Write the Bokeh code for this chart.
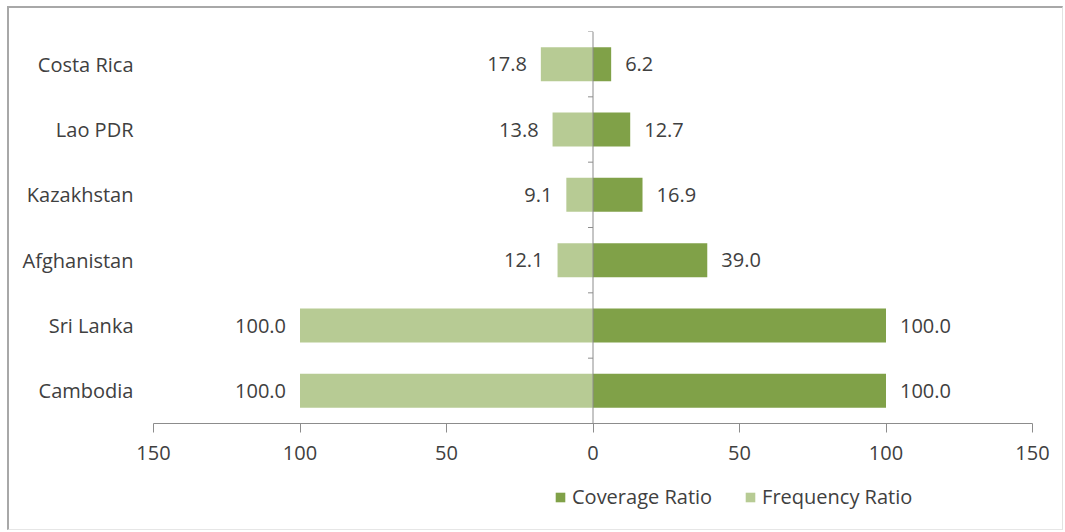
from bokeh.plotting import figure
from bokeh.layouts import column
from bokeh.models import (ColumnDataSource, FactorRange, Range1d, FixedTicker,
                          Legend, LegendItem)
from bokeh.core.properties import value
from bokeh.embed import file_html
from bokeh.resources import INLINE

# Countries listed bottom to top
countries = ["Cambodia", "Sri Lanka", "Afghanistan", "Kazakhstan", "Lao PDR", "Costa Rica"]
coverage_ratio = [100.0, 100.0, 39.0, 16.9, 12.7, 6.2]
frequency_ratio = [100.0, 100.0, 12.1, 9.1, 13.8, 17.8]
x_ticks = [-150, -100, -50, 0, 50, 100, 150]
series_names = ["Coverage Ratio", "Frequency Ratio"]

FONT = "Open Sans"
TEXT_COLOR = "#404040"
DARK_GREEN = "#80a148"
LIGHT_GREEN = "#b7cb94"
AXIS_GRAY = "#8c8c8c"
BAR_HEIGHT = 0.52
LABEL_SIZE = "20px"

src = ColumnDataSource(dict(
    country=countries,
    cov=coverage_ratio,
    freq_neg=[-v for v in frequency_ratio],
    cov_label=[f"{v:.1f}" for v in coverage_ratio],
    freq_label=[f"{v:.1f}" for v in frequency_ratio],
))

p = figure(width=1053, height=470, output_backend="svg", toolbar_location=None,
           y_range=FactorRange(*countries, range_padding=0),
           x_range=Range1d(-150, 150),
           min_border_left=144, min_border_right=30,
           min_border_top=23, min_border_bottom=55)
p.outline_line_color = None
p.background_fill_color = "white"
p.border_fill_color = "white"
p.xgrid.visible = False
p.ygrid.visible = False

p.hbar(y="country", left=0, right="cov", height=BAR_HEIGHT, source=src,
       fill_color=DARK_GREEN, line_color=None)
p.hbar(y="country", left="freq_neg", right=0, height=BAR_HEIGHT, source=src,
       fill_color=LIGHT_GREEN, line_color=None)

# Centre axis line with small ticks between categories
bounds = list(range(len(countries) + 1))
p.segment(x0=0, y0=0, x1=0, y1=len(countries), line_color=AXIS_GRAY, line_width=1)
p.segment(x0=[-1.7] * len(bounds), y0=bounds, x1=[0] * len(bounds), y1=bounds,
          line_color=AXIS_GRAY, line_width=1)

# Value labels
p.text(x="cov", y="country", text="cov_label", source=src, x_offset=14,
       text_align="left", text_baseline="middle", text_font=value(FONT),
       text_font_size=LABEL_SIZE, text_color=TEXT_COLOR)
p.text(x="freq_neg", y="country", text="freq_label", source=src, x_offset=-14,
       text_align="right", text_baseline="middle", text_font=value(FONT),
       text_font_size=LABEL_SIZE, text_color=TEXT_COLOR)

# X axis with absolute-value labels
xa = p.xaxis[0]
xa.ticker = FixedTicker(ticks=x_ticks)
xa.major_label_overrides = {t: str(abs(t)) for t in x_ticks}
xa.axis_line_color = AXIS_GRAY
xa.major_tick_line_color = AXIS_GRAY
xa.major_tick_out = 9
xa.major_tick_in = 0
xa.minor_tick_line_color = None
xa.major_label_standoff = 13
xa.major_label_text_font = FONT
xa.major_label_text_font_size = LABEL_SIZE
xa.major_label_text_color = TEXT_COLOR

# Category labels on the left
ya = p.yaxis[0]
ya.axis_line_color = None
ya.major_tick_line_color = None
ya.minor_tick_line_color = None
ya.major_label_standoff = 14
ya.major_label_text_font = FONT
ya.major_label_text_font_size = LABEL_SIZE
ya.major_label_text_color = TEXT_COLOR

# Legend strip under the chart (its frame lines up with the chart's frame)
leg = figure(width=1053, height=51, output_backend="svg", toolbar_location=None,
             x_range=Range1d(0, 1), y_range=Range1d(0, 1),
             min_border_left=0, min_border_right=0,
             min_border_top=0, min_border_bottom=0)
leg.axis.visible = False
leg.grid.visible = False
leg.outline_line_color = None
# swatch renderers sit outside the strip's visible range; only their legend entries show
swatch_cov = leg.hbar(y=[-5], left=[0], right=[1], height=BAR_HEIGHT,
                      fill_color=DARK_GREEN, line_color=None)
swatch_freq = leg.hbar(y=[-5], left=[0], right=[1], height=BAR_HEIGHT,
                       fill_color=LIGHT_GREEN, line_color=None)
legend = Legend(items=[LegendItem(label=series_names[0], renderers=[swatch_cov]),
                       LegendItem(label=series_names[1], renderers=[swatch_freq])],
                orientation="horizontal", location=(401, 19),
                glyph_width=12, glyph_height=12, label_standoff=6, spacing=32,
                padding=0, margin=0, border_line_color=None,
                background_fill_alpha=0,
                label_text_font=FONT, label_text_font_size=LABEL_SIZE,
                label_text_color=TEXT_COLOR)
leg.add_layout(legend, "center")

layout = column(p, leg, margin=(6, 0, 0, 7),
                styles={"border-top": "2px solid #a8a8a8",
                        "border-left": "2px solid #a8a8a8",
                        "border-right": "1px solid #e2e2e2",
                        "border-bottom": "1px solid #e6e6e6"})

open("out.html", "w").write(file_html(layout, INLINE))
